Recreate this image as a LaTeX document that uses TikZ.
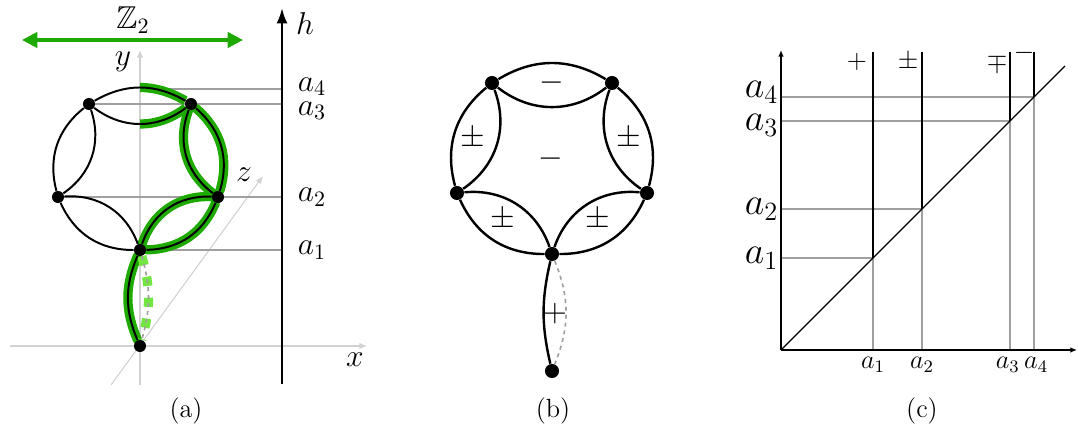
\documentclass[tikz,border=0pt]{standalone}
\usepackage{amsmath}
\usepackage{amssymb}
\usepackage{xcolor}
\usepackage{tikz}
\usetikzlibrary{arrows.meta, positioning, backgrounds}

\definecolor{zgreen}{RGB}{30,170,0}
\definecolor{zlight}{RGB}{115,230,65}
\definecolor{axisgray}{RGB}{210,210,210}
\definecolor{guidegray}{RGB}{160,160,160}

\begin{document}
\begin{tikzpicture}[
        x=0.016cm, y=0.016cm,
        vertex/.style={circle, fill, inner sep=0pt, minimum size=5.5pt},
        bvertex/.style={circle, fill, inner sep=0pt, minimum size=6.4pt},
        lens/.style={line width=0.9pt},
        blens/.style={line width=1.1pt},
        glow/.style={zgreen, line width=4.2pt, line cap=round},
        ghost/.style={guidegray, line width=0.75pt, dash pattern=on 1.8pt off 1.8pt},
        axis3d/.style={axisgray, line width=0.5pt, -{Latex[length=3.5pt,width=3pt]}},
        guide/.style={guidegray, line width=0.5pt},
        axisc/.style={line width=0.6pt, -{Latex[length=3pt,width=2.5pt]}},
        ray/.style={line width=1.2pt},
        alab/.style={font=\Large, inner sep=1pt},
        clab/.style={font=\large, inner sep=1pt},
        cbig/.style={font=\LARGE, inner sep=1pt},
        captxt/.style={font=\large},
        signtxt/.style={font=\Large, inner sep=0pt},
        csign/.style={font=\large, inner sep=0pt}
    ]
    \useasboundingbox (0,0) rectangle (1078,434);

    % (a) axes
    \coordinate (O) at (140,88);
    \coordinate (xstart) at (10,88);
    \coordinate (xend) at (367,88);
    \coordinate (ystart) at (140,49);
    \coordinate (yend) at (140,384);
    \coordinate (zstart) at (111,49);
    \coordinate (zend) at (263,258);
    \node[alab] (xlab) at (355,74) {$x$};
    \node[alab] (ylab) at (123,372) {$y$};
    \node[alab] (zlab) at (244,259) {$z$};

    % (a) vertices
    \node[vertex] (av1) at (89,330) {};
    \node[vertex] (av2) at (191,330) {};
    \node[vertex] (av3) at (218,237) {};
    \node[vertex] (av4) at (140,184) {};
    \node[vertex] (av5) at (58,237) {};
    \node[vertex] (atail) at (O) {};

    % h axis
    \coordinate (hbot) at (282,50);
    \coordinate (htop) at (282,426);
    \coordinate (atop) at (140,345);
    \coordinate (ha4) at (282,345);
    \coordinate (ha3) at (282,330);
    \coordinate (ha2) at (282,237);
    \coordinate (ha1) at (282,184);
    \draw[line width=1.1pt, -{Latex[length=7pt,width=5pt]}] (hbot) -- (htop);
    \node[alab] (hlab) at (305,410) {$h$};
    \node[alab, right=6pt of ha4, yshift=1pt] (la4) {$a_4$};
    \node[alab, right=6pt of ha3, yshift=-3pt] (la3) {$a_3$};
    \node[alab, right=6pt of ha2] (la2) {$a_2$};
    \node[alab, right=6pt of ha1] (la1) {$a_1$};

    % Z2 arrow
    \coordinate (zleft) at (22,394);
    \coordinate (zright) at (243,394);
    \draw[zgreen, line width=1.5pt, {Triangle[length=7pt,width=7pt]}-{Triangle[length=7pt,width=7pt]}] (zleft) -- (zright);
    \node[alab] (ztwo) at (133,414) {$\mathbb{Z}_2$};

    \begin{scope}[on background layer]
        \draw[axis3d] (xstart) -- (xend);
        \draw[axis3d] (ystart) -- (yend);
        \draw[axis3d] (zstart) -- (zend);
        \draw[guide] (atop) -- (ha4);
        \draw[guide] (av1) -- (ha3);
        \draw[guide] (av5) -- (ha2);
        \draw[guide] (av4) -- (ha1);
        % green path
        \draw[glow] (atail) to[bend left=23] (av4);
        \draw[glow] (av3) to[bend left=33] (av4);
        \draw[glow] (av3) to[bend right=37] (av4);
        \draw[glow] (av2) to[bend left=33] (av3);
        \draw[glow] (av2) to[bend right=37] (av3);
        \begin{scope}
            \clip (140,295) rectangle (260,375);
            \draw[glow, line cap=butt] (av1) to[bend left=30] (av2);
            \draw[glow, line cap=butt] (av1) to[bend right=37] (av2);
        \end{scope}
        \draw[zlight, line width=4.2pt, dash pattern=on 4.2pt off 5.4pt] (av4) to[bend left=16] (atail);
    \end{scope}

    % (a) edges
    \draw[lens] (av1) to[bend left=30] (av2);
    \draw[lens] (av1) to[bend right=37] (av2);
    \draw[lens] (av2) to[bend left=33] (av3);
    \draw[lens] (av2) to[bend right=37] (av3);
    \draw[lens] (av3) to[bend left=33] (av4);
    \draw[lens] (av3) to[bend right=37] (av4);
    \draw[lens] (av4) to[bend left=33] (av5);
    \draw[lens] (av4) to[bend right=37] (av5);
    \draw[lens] (av5) to[bend left=33] (av1);
    \draw[lens] (av5) to[bend right=37] (av1);
    \draw[lens] (atail) to[bend left=23] (av4);
    \draw[ghost] (av4) to[bend left=16] (atail);

    % (b) vertices
    \node[bvertex] (bv1) at (492,351) {};
    \node[bvertex] (bv2) at (612,351) {};
    \node[bvertex] (bv3) at (647,241) {};
    \node[bvertex] (bv4) at (552,180) {};
    \node[bvertex] (bv5) at (457,241) {};
    \node[bvertex] (btail) at (552,63) {};

    % (b) edges
    \draw[blens] (bv1) to[bend left=31] (bv2);
    \draw[blens] (bv1) to[bend right=38] (bv2);
    \draw[blens] (bv2) to[bend left=33] (bv3);
    \draw[blens] (bv2) to[bend right=38] (bv3);
    \draw[blens] (bv3) to[bend left=33] (bv4);
    \draw[blens] (bv3) to[bend right=38] (bv4);
    \draw[blens] (bv4) to[bend left=33] (bv5);
    \draw[blens] (bv4) to[bend right=38] (bv5);
    \draw[blens] (bv5) to[bend left=33] (bv1);
    \draw[blens] (bv5) to[bend right=38] (bv1);
    \draw[blens] (btail) to[bend left=13] (bv4);
    \draw[ghost] (bv4) to[bend left=22] (btail);

    % (b) signs
    \node[signtxt] (bs1) at (552,351) {$-$};
    \node[signtxt] (bs2) at (551,275) {$-$};
    \node[signtxt] (bs3) at (473,295) {$\pm$};
    \node[signtxt] (bs4) at (629,295) {$\pm$};
    \node[signtxt] (bs5) at (503,214) {$\pm$};
    \node[signtxt] (bs6) at (598,214) {$\pm$};
    \node[signtxt] (bs7) at (555,120) {$+$};

    % (c) axes
    \coordinate (cO) at (781,84);
    \coordinate (cx) at (1077,84);
    \coordinate (cy) at (781,384);
    \coordinate (cdiag) at (1065,368);
    \coordinate (p1) at (873,176);
    \coordinate (p2) at (922,225);
    \coordinate (p3) at (1010,313);
    \coordinate (p4) at (1034,337);
    \coordinate (x1) at (873,84);
    \coordinate (x2) at (922,84);
    \coordinate (x3) at (1010,84);
    \coordinate (x4) at (1034,84);
    \coordinate (y1) at (781,176);
    \coordinate (y2) at (781,225);
    \coordinate (y3) at (781,313);
    \coordinate (y4) at (781,337);
    \coordinate (t1) at (873,382);
    \coordinate (t2) at (922,382);
    \coordinate (t3) at (1010,382);
    \coordinate (t4) at (1034,382);

    \draw[guide] (x1) -- (p1) -- (y1);
    \draw[guide] (x2) -- (p2) -- (y2);
    \draw[guide] (x3) -- (p3) -- (y3);
    \draw[guide] (x4) -- (p4) -- (y4);
    \draw[axisc] (cO) -- (cx);
    \draw[axisc] (cO) -- (cy);
    \draw[line width=0.6pt] (cO) -- (cdiag);
    \draw[ray] (p1) -- (t1);
    \draw[ray] (p2) -- (t2);
    \draw[ray] (p3) -- (t3);
    \draw[ray] (p4) -- (t4);

    \node[clab, below=2pt of x1] (cx1) {$a_1$};
    \node[clab, below=2pt of x2] (cx2) {$a_2$};
    \node[clab, below=2pt of x3, xshift=-1pt] (cx3) {$a_3$};
    \node[clab, below=2pt of x4, xshift=1pt] (cx4) {$a_4$};
    \node[cbig, left=0pt of y1] (cy1) {$a_1$};
    \node[cbig, left=0pt of y2] (cy2) {$a_2$};
    \node[cbig, left=0pt of y3, yshift=-2pt] (cy3) {$a_3$};
    \node[cbig, left=0pt of y4, yshift=2pt] (cy4) {$a_4$};

    % (c) signs
    \node[csign] (cs1) at (857,372) {$+$};
    \node[csign] (cs2) at (908,372) {$\pm$};
    \node[csign] (cs3) at (997,371) {$\mp$};
    \node[csign] (cs4) at (1024,381) {$-$};

    % captions
    \node[captxt] (capa) at (186,23) {(a)};
    \node[captxt] (capb) at (553,23) {(b)};
    \node[captxt] (capc) at (922,23) {(c)};

\end{tikzpicture}
\end{document}
